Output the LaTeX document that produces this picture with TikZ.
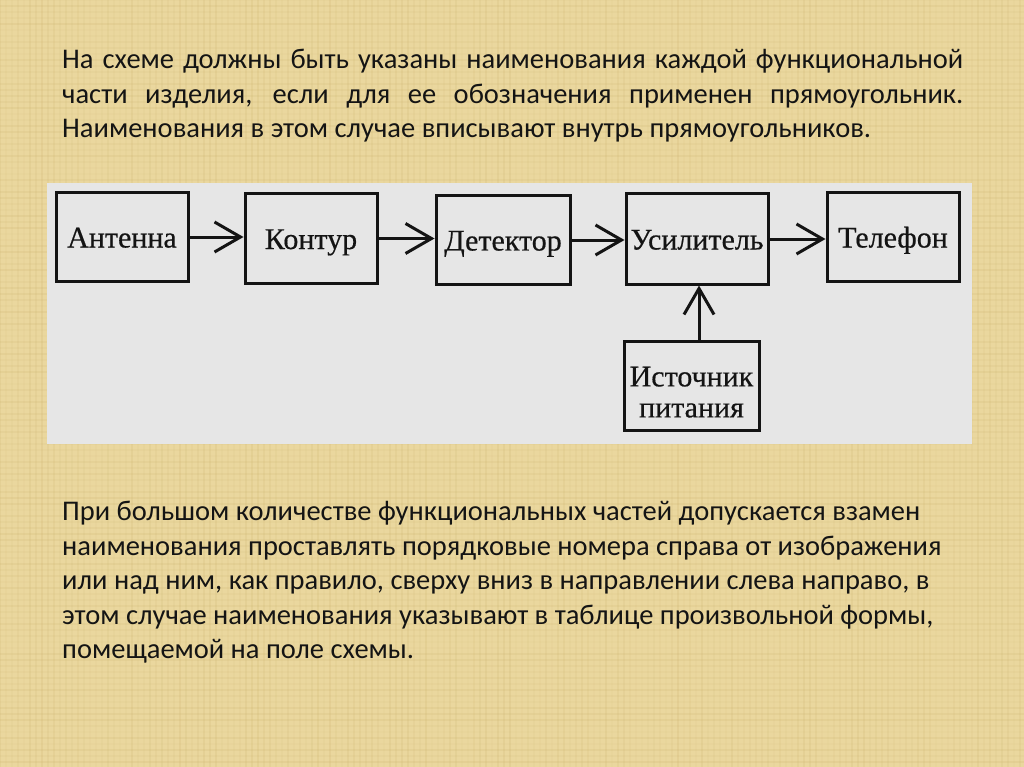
\documentclass[tikz,border=0pt]{standalone}
\usepackage{fontspec}
\setmainfont{Carlito}
\newfontfamily\boxfont[FakeBold=0.5]{Liberation Serif}
\usetikzlibrary{arrows.meta}
\definecolor{parch}{RGB}{234,215,158}
\definecolor{parchdark}{RGB}{200,175,105}
\definecolor{panel}{RGB}{230,230,230}
\definecolor{ink}{RGB}{20,20,20}
\tikzset{
  blkbase/.style={draw=ink, line width=3pt, fill=panel, inner sep=0pt, align=center,
    font=\boxfont\fontsize{30}{31}\selectfont, text=ink},
  blk/.style={blkbase, text height=21pt, text depth=0pt},
  arr/.style={draw=ink, line width=3pt, -{Straight Barb[length=26pt,width=30pt,line width=3pt]}},
  para/.style={anchor=base west, inner sep=0pt, text=ink, font=\fontsize{28.5}{32}\selectfont}
}
\begin{document}
\begin{tikzpicture}[x=1pt,y=-1pt]
\useasboundingbox (0,0) rectangle (1024,767);
\fill[parch] (0,0) rectangle (1024,767);
\pgfmathsetseed{7}
\foreach \i in {0,6,...,1024}{
  \pgfmathsetmacro{\op}{0.04+0.14*rnd}
  \draw[parchdark, opacity=\op, line width=1.5pt] (\i,0) -- (\i,767);
}
\foreach \j in {0,6,...,767}{
  \pgfmathsetmacro{\op}{0.04+0.14*rnd}
  \draw[parchdark, opacity=\op, line width=1.5pt] (0,\j) -- (1024,\j);
}
% top paragraph
\node[para] (t1) at (62,69) {\makebox[901pt][s]{На схеме должны быть указаны наименования каждой функциональной}};
\node[para] (t2) at (62,104) {\makebox[901pt][s]{части изделия, если для ее обозначения применен прямоугольник.}};
\node[para] (t3) at (62,138) {Наименования в этом случае вписывают внутрь прямоугольников.};
% panel
\fill[panel] (47,183) rectangle (972,444);
% blocks
\node[blk, minimum width=132pt, minimum height=88pt] (a) at (122,237) {Антенна};
\node[blk, minimum width=132pt, minimum height=89pt] (k) at (311,238.5) {Контур};
\node[blk, minimum width=134pt, minimum height=88pt] (d) at (503,240) {Детектор};
\node[blk, minimum width=142pt, minimum height=90pt] (u) at (697,239) {Усилитель};
\node[blk, minimum width=132pt, minimum height=88pt] (t) at (893,237) {Телефон};
\node[blkbase, minimum width=135pt, minimum height=89pt] (p) at (691.5,385.5) {\rule{0pt}{33pt}Источник\\питания};
% connectors
\draw[arr] (a.east) -- (a.east -| k.west);
\draw[arr] (k.east) -- (k.east -| d.west);
\draw[arr] (d.east) -- (d.east -| u.west);
\draw[arr] (u.east) -- (u.east -| t.west);
\draw[arr] ([xshift=7.5pt]p.north) -- ([xshift=7.5pt]p.north |- u.south);
% bottom paragraph
\node[para] (b1) at (62,520) {При большом количестве функциональных частей допускается взамен};
\node[para] (b2) at (62,555) {наименования проставлять порядковые номера справа от изображения};
\node[para] (b3) at (62,589) {или над ним, как правило, сверху вниз в направлении слева направо, в};
\node[para] (b4) at (62,624) {этом случае наименования указывают в таблице произвольной формы,};
\node[para] (b5) at (62,658) {помещаемой на поле схемы.};
\end{tikzpicture}
\end{document}
